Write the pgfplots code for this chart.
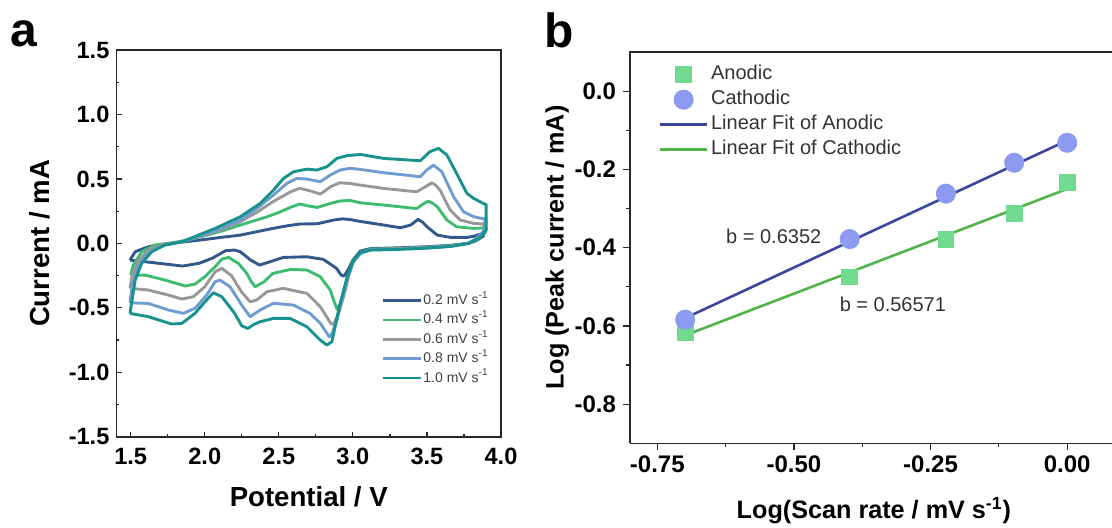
\documentclass[border=0pt]{standalone}
\usepackage{fontspec}
\setmainfont{Liberation Sans}
\usepackage{pgfplots}
\pgfplotsset{compat=1.18}
\definecolor{c02}{RGB}{50,88,140}
\definecolor{c04}{RGB}{62,188,112}
\definecolor{c06}{RGB}{152,152,152}
\definecolor{c08}{RGB}{112,156,210}
\definecolor{c10}{RGB}{24,146,140}
\definecolor{sq}{RGB}{112,218,144}
\definecolor{ci}{RGB}{140,155,240}
\definecolor{fitA}{RGB}{60,70,160}
\definecolor{fitC}{RGB}{80,180,75}
\definecolor{axc}{RGB}{40,40,40}
\pgfplotsset{
  markleg/.style={legend image code/.code={\draw[##1, mark repeat=2, mark phase=2] plot coordinates {(0pt,0pt) (11.75pt,0pt) (23.5pt,0pt)};}},
  lineleg/.style={legend image code/.code={\draw[##1] (0pt,0pt) -- (23.5pt,0pt);}},
  cvleg/.style={legend image code/.code={\draw[##1, line width=1.3pt] (0pt,0pt) -- (19pt,0pt);}},
}
\begin{document}
\begin{tikzpicture}
\useasboundingbox (0,0) rectangle (556pt,263.5pt);
\node[anchor=base west, font=\bfseries\fontsize{24}{24}\selectfont, inner sep=0pt] at (5pt,240.5pt) {a};
\node[anchor=base west, font=\bfseries\fontsize{24}{24}\selectfont, inner sep=0pt] at (272pt,240pt) {b};
% ---------------- panel a ----------------
\begin{axis}[
  at={(58.25pt,45.15pt)}, anchor=south west, scale only axis,
  width=192.25pt, height=193.35pt,
  xmin=1.404, xmax=4.0, ymin=-1.5, ymax=1.5,
  xtick={1.5,2.0,2.5,3.0,3.5,4.0}, ytick={-1.5,-1.0,-0.5,0,0.5,1.0,1.5},
  minor x tick num=1, minor y tick num=1,
  tick align=inside, tick pos=left,
  major tick length=2.5pt, minor tick length=1.5pt,
  axis line style={line width=0.8pt, draw=axc},
  every tick/.style={axc, line width=0.6pt},
  xticklabel={\pgfmathprintnumber[assume math mode=true,fixed,fixed zerofill,precision=1]{\tick}},
  yticklabel={\pgfmathprintnumber[assume math mode=true,fixed,fixed zerofill,precision=1]{\tick}},
  ticklabel style={font=\bfseries\fontsize{11.8}{13}\selectfont},
  xticklabel style={yshift=-2pt},
  xlabel={Potential / V}, ylabel={Current / mA},
  label style={font=\bfseries\fontsize{13.8}{15}\selectfont},
  xlabel style={at={(axis description cs:0.5,0)}, anchor=center, yshift=-30pt},
  ylabel style={at={(axis description cs:-0.2,0.5)}, anchor=center},
  cvleg,
  legend style={at={(axis cs:3.19,-0.365)}, anchor=north west, draw=none, fill=none,
    font=\fontsize{7}{8}\selectfont, text=black!75, inner sep=0pt, row sep=0pt, column sep=0.4pt,
    nodes={inner sep=0.3pt, text height=6.5pt, text depth=2.6pt}},
  legend cell align=left,
  every axis plot/.append style={line width=1.45pt, line join=round, mark=none},
]
\addplot[c02] coordinates {
(1.495,-0.13) (1.53,-0.065) (1.62,-0.026) (1.73,-0.005) (1.85,0.01) (2.0,0.03) (2.1,0.045) (2.24,0.064) (2.35,0.09) (2.46,0.116) (2.55,0.135) (2.64,0.15) (2.76,0.152) (2.87,0.181) (2.93,0.19) (2.98,0.185) (3.05,0.17) (3.21,0.142) (3.32,0.121) (3.39,0.142) (3.44,0.186) (3.47,0.165) (3.5,0.129) (3.57,0.064) (3.66,0.046) (3.77,0.046) (3.82,0.056) (3.87,0.075) (3.9,0.12)
(3.88,0.055) (3.83,0.02) (3.78,0.0) (3.66,-0.015) (3.5,-0.026) (3.3,-0.035) (3.12,-0.04) (3.05,-0.06) (3.0,-0.13) (2.97,-0.2) (2.94,-0.255) (2.92,-0.245) (2.89,-0.194) (2.8,-0.124) (2.69,-0.104) (2.53,-0.109) (2.44,-0.143) (2.37,-0.168) (2.31,-0.13) (2.24,-0.065) (2.2,-0.052) (2.14,-0.057) (2.05,-0.116) (1.96,-0.155) (1.85,-0.176) (1.73,-0.16) (1.6,-0.143) (1.495,-0.13)};
\addlegendentry{0.2 mV s\textsuperscript{-1}}
\addplot[c04] coordinates {
(1.50,-0.246) (1.518,-0.168) (1.574,-0.065) (1.664,-0.013) (1.8,0.008) (1.9,0.03) (2.0,0.06) (2.1,0.09) (2.24,0.142) (2.42,0.206) (2.5,0.24) (2.58,0.28) (2.64,0.305) (2.7,0.29) (2.76,0.279) (2.85,0.31) (2.91,0.328) (2.98,0.333) (3.05,0.315) (3.21,0.297) (3.43,0.27) (3.48,0.31) (3.51,0.328) (3.54,0.31) (3.57,0.284) (3.635,0.181) (3.70,0.129) (3.815,0.116) (3.88,0.12) (3.9,0.16)
(3.88,0.07) (3.83,0.025) (3.78,0.0) (3.66,-0.018) (3.5,-0.03) (3.3,-0.04) (3.12,-0.045) (3.05,-0.07) (3.0,-0.14) (2.97,-0.25) (2.95,-0.35) (2.92,-0.46) (2.892,-0.51) (2.87,-0.44) (2.847,-0.362) (2.78,-0.259) (2.69,-0.207) (2.58,-0.202) (2.46,-0.233) (2.40,-0.298) (2.34,-0.337) (2.31,-0.29) (2.284,-0.233) (2.227,-0.155) (2.16,-0.109) (2.115,-0.122) (2.07,-0.181) (2.0,-0.259) (1.934,-0.316) (1.867,-0.331) (1.732,-0.285) (1.597,-0.246) (1.50,-0.246)};
\addlegendentry{0.4 mV s\textsuperscript{-1}}
\addplot[c06] coordinates {
(1.495,-0.349) (1.51,-0.25) (1.55,-0.14) (1.62,-0.05) (1.72,-0.01) (1.85,0.015) (2.0,0.065) (2.1,0.1) (2.24,0.168) (2.35,0.24) (2.46,0.323) (2.58,0.40) (2.64,0.427) (2.71,0.408) (2.78,0.382) (2.85,0.44) (2.91,0.47) (2.98,0.465) (3.05,0.452) (3.21,0.426) (3.43,0.40) (3.49,0.44) (3.534,0.47) (3.56,0.45) (3.59,0.41) (3.657,0.258) (3.725,0.181) (3.815,0.155) (3.88,0.15) (3.9,0.18)
(3.88,0.08) (3.83,0.03) (3.78,0.0) (3.66,-0.02) (3.5,-0.032) (3.3,-0.042) (3.12,-0.048) (3.05,-0.075) (3.0,-0.15) (2.97,-0.26) (2.94,-0.4) (2.9,-0.55) (2.87,-0.63) (2.85,-0.62) (2.78,-0.492) (2.69,-0.388) (2.53,-0.349) (2.42,-0.375) (2.35,-0.44) (2.306,-0.453) (2.25,-0.38) (2.18,-0.25) (2.115,-0.194) (2.07,-0.22) (2.0,-0.337) (1.923,-0.414) (1.845,-0.432) (1.754,-0.401) (1.619,-0.362) (1.495,-0.349)};
\addlegendentry{0.6 mV s\textsuperscript{-1}}
\addplot[c08] coordinates {
(1.495,-0.461) (1.51,-0.33) (1.55,-0.18) (1.62,-0.07) (1.72,-0.015) (1.85,0.015) (2.0,0.07) (2.1,0.11) (2.24,0.181) (2.35,0.27) (2.464,0.375) (2.554,0.465) (2.622,0.504) (2.689,0.499) (2.779,0.478) (2.847,0.53) (2.914,0.569) (2.98,0.582) (3.05,0.574) (3.207,0.548) (3.455,0.517) (3.5,0.57) (3.545,0.607) (3.60,0.556) (3.68,0.362) (3.747,0.245) (3.815,0.207) (3.88,0.19) (3.9,0.2)
(3.88,0.09) (3.83,0.035) (3.78,0.0) (3.66,-0.022) (3.5,-0.035) (3.3,-0.045) (3.12,-0.05) (3.05,-0.08) (3.0,-0.15) (2.96,-0.28) (2.93,-0.43) (2.89,-0.6) (2.86,-0.7) (2.84,-0.725) (2.78,-0.62) (2.71,-0.543) (2.6,-0.479) (2.464,-0.465) (2.374,-0.517) (2.306,-0.569) (2.25,-0.48) (2.171,-0.337) (2.103,-0.285) (2.07,-0.298) (2.013,-0.401) (1.934,-0.504) (1.855,-0.543) (1.754,-0.517) (1.619,-0.466) (1.495,-0.461)};
\addlegendentry{0.8 mV s\textsuperscript{-1}}
\addplot[c10] coordinates {
(1.495,-0.543) (1.53,-0.285) (1.574,-0.155) (1.642,-0.065) (1.732,-0.013) (1.845,0.012) (2.07,0.116) (2.239,0.206) (2.374,0.31) (2.464,0.413) (2.531,0.504) (2.599,0.555) (2.689,0.576) (2.757,0.569) (2.824,0.594) (2.892,0.659) (2.959,0.68) (3.05,0.69) (3.207,0.659) (3.455,0.641) (3.52,0.711) (3.578,0.737) (3.635,0.685) (3.70,0.543) (3.77,0.388) (3.815,0.349) (3.88,0.31) (3.9,0.30)
(3.9,0.10) (3.85,0.04) (3.78,0.0) (3.66,-0.024) (3.5,-0.037) (3.3,-0.047) (3.12,-0.052) (3.05,-0.07) (3.004,-0.13) (2.959,-0.272) (2.914,-0.465) (2.858,-0.763) (2.824,-0.789) (2.779,-0.75) (2.689,-0.647) (2.576,-0.582) (2.464,-0.582) (2.374,-0.608) (2.33,-0.63) (2.29,-0.66) (2.25,-0.64) (2.2,-0.54) (2.115,-0.414) (2.058,-0.383) (2.002,-0.453) (1.934,-0.543) (1.845,-0.621) (1.777,-0.626) (1.619,-0.569) (1.495,-0.543)};
\addlegendentry{1.0 mV s\textsuperscript{-1}}
\end{axis}
% ---------------- panel b ----------------
\begin{axis}[
  at={(315pt,41.85pt)}, anchor=south west, scale only axis,
  width=241pt, height=195.65pt,
  xmin=-0.8, xmax=0.082, ymin=-0.9, ymax=0.1,
  clip=false,
  xtick={-0.75,-0.5,-0.25,0}, ytick={-0.8,-0.6,-0.4,-0.2,0},
  minor x tick num=1, minor y tick num=1,
  tick align=outside, tick pos=left,
  major tick length=3.5pt, minor tick length=2pt,
  axis line style={draw=none},
  every tick/.style={axc, line width=0.6pt},
  xticklabel={\pgfmathprintnumber[assume math mode=true,fixed,fixed zerofill,precision=2]{\tick}},
  yticklabel={\pgfmathprintnumber[assume math mode=true,fixed,fixed zerofill,precision=1]{\tick}},
  ticklabel style={font=\bfseries\fontsize{12}{14}\selectfont},
  xticklabel style={yshift=1pt},
  xlabel={Log(Scan rate / mV s\textsuperscript{-1})}, ylabel={Log (Peak current / mA)},
  label style={font=\bfseries\fontsize{12.6}{15}\selectfont},
  xlabel style={at={(axis description cs:0.506,0)}, anchor=center, yshift=-33.5pt},
  ylabel style={at={(axis description cs:-0.151,0.5)}, anchor=center},
  legend style={at={(axis cs:-0.748,0.075)}, anchor=north west, draw=none, fill=none,
    font=\fontsize{10}{12}\selectfont, text=black!80, inner sep=0pt, row sep=0pt, column sep=0.6pt,
    nodes={inner sep=0.75pt, text height=8pt, text depth=3pt}},
  legend cell align=left,
]
\draw[axc, line width=0.8pt] (rel axis cs:0,0) -- (rel axis cs:1,0);
\draw[axc, line width=0.8pt] (rel axis cs:0,0) -- (rel axis cs:0,1) -- (rel axis cs:1,1);
\addplot[only marks, mark=square*, mark size=3.9pt, sq, mark options={draw=none, fill=sq}, markleg]
  coordinates {(-0.699,-0.616) (-0.398,-0.475) (-0.222,-0.379) (-0.097,-0.313) (0,-0.233)};
\addlegendentry{Anodic}
\addplot[only marks, mark=*, mark size=4.8pt, ci, mark options={draw=none, fill=ci}, markleg]
  coordinates {(-0.699,-0.584) (-0.398,-0.378) (-0.222,-0.262) (-0.097,-0.183) (0,-0.132)};
\addlegendentry{Cathodic}
\addplot[fitA, line width=1.3pt, mark=none, lineleg]
  coordinates {(-0.699,-0.580) (0,-0.126)};
\addlegendentry{Linear Fit of Anodic}
\addplot[fitC, line width=1.3pt, mark=none, lineleg]
  coordinates {(-0.699,-0.624) (0,-0.250)};
\addlegendentry{Linear Fit of Cathodic}
\node[font=\fontsize{10}{12}\selectfont, text=black!80] at (axis cs:-0.537,-0.372) {b = 0.6352};
\node[font=\fontsize{10}{12}\selectfont, text=black!80] at (axis cs:-0.319,-0.546) {b = 0.56571};
\end{axis}
\end{tikzpicture}
\end{document}
